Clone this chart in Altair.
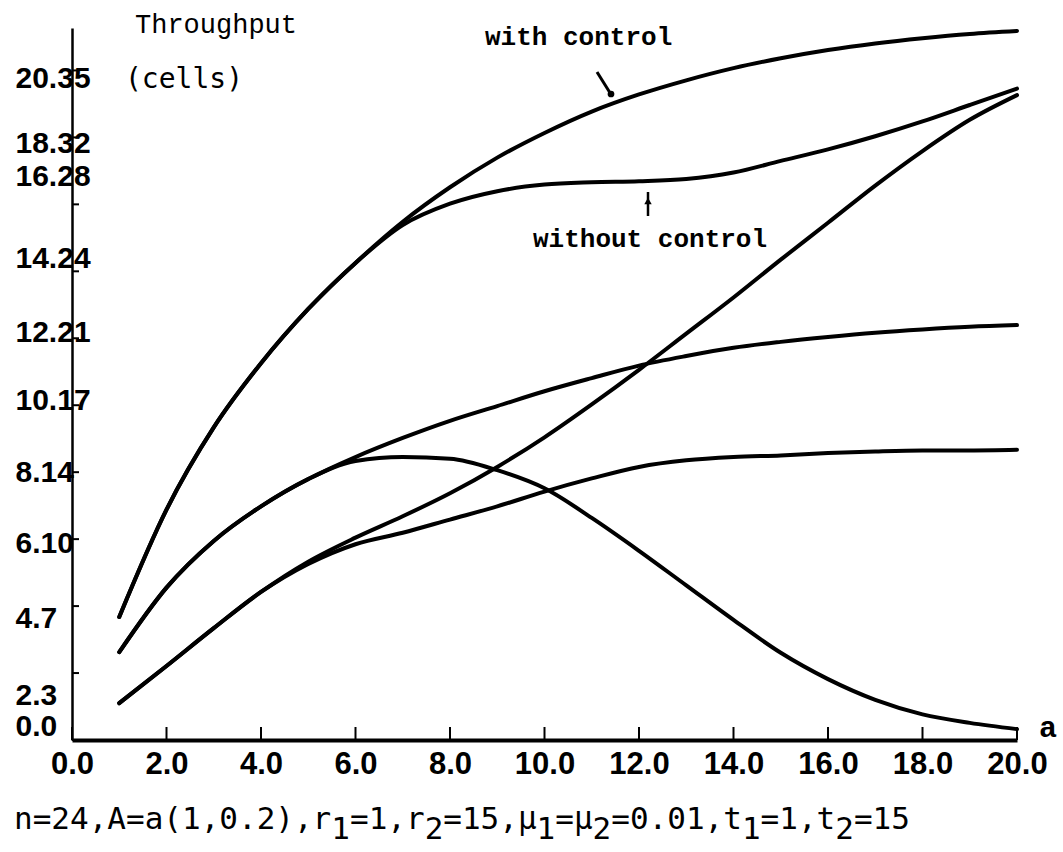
import altair as alt
import pandas as pd

# ---- data -------------------------------------------------------------
a_vals = list(range(1, 21))

with_ctrl_hi = [3.74, 7.0, 9.5, 11.45, 13.1, 14.5, 15.75, 16.8, 17.7, 18.45,
                19.1, 19.62, 20.05, 20.42, 20.72, 20.97, 21.17, 21.33, 21.46, 21.55]
without_ctrl_hi = [3.74, 7.0, 9.5, 11.45, 13.1, 14.5, 15.65, 16.3, 16.68, 16.88,
                   16.95, 16.98, 17.05, 17.25, 17.6, 17.95, 18.35, 18.8, 19.3, 19.8]
with_ctrl_mid = [2.67, 4.63, 6.05, 7.1, 7.93, 8.6, 9.18, 9.7, 10.15, 10.6,
                 11.0, 11.38, 11.67, 11.92, 12.1, 12.25, 12.38, 12.48, 12.56, 12.61]
without_ctrl_mid = [2.67, 4.63, 6.05, 7.1, 7.93, 8.48, 8.6, 8.55, 8.2, 7.65,
                    6.75, 5.75, 4.7, 3.65, 2.65, 1.85, 1.22, 0.78, 0.52, 0.33]
with_ctrl_lo = [1.12, 2.25, 3.4, 4.5, 5.42, 6.15, 6.8, 7.5, 8.3, 9.2,
                10.2, 11.25, 12.35, 13.45, 14.6, 15.72, 16.85, 17.9, 18.85, 19.6]
without_ctrl_lo = [1.12, 2.25, 3.4, 4.5, 5.35, 5.95, 6.3, 6.7, 7.1, 7.55,
                   7.95, 8.3, 8.5, 8.6, 8.65, 8.72, 8.77, 8.8, 8.8, 8.82]

x_ticks = [0, 2, 4, 6, 8, 10, 12, 14, 16, 18, 20]
y_ticks = [0, 2.035, 4.07, 6.105, 8.14, 10.175, 12.21, 14.245, 16.28, 18.315, 20.35]
y_tick_labels = ["0.0", "2.3", "4.7", "6.10", "8.14", "10.17", "12.21",
                 "14.24", "16.28", "18.32", "20.35"]
# vertical nudge of each printed y label relative to its tick (px)
y_label_nudge = [-14, 22, 12, 4, 0, -5, -6, -13, -28, 6, 8]

series = {
    "with control (1)": with_ctrl_hi,
    "without control (1)": without_ctrl_hi,
    "with control (2)": with_ctrl_mid,
    "without control (2)": without_ctrl_mid,
    "with control (3)": with_ctrl_lo,
    "without control (3)": without_ctrl_lo,
}

df = pd.DataFrame(
    [{"series": s, "a": a, "throughput": v}
     for s, vals in series.items() for a, v in zip(a_vals, vals)]
)

# ---- layout -------------------------------------------------------------
W, H = 945, 712
TICKFONT = "Liberation Sans, Arial, sans-serif"
TYPE = "Liberation Mono, Courier New, monospace"
SANSMONO = "DejaVu Sans Mono, monospace"

x_scale = alt.Scale(domain=[0, 20], nice=False, zero=False)
y_scale = alt.Scale(domain=[0, 21.64], nice=False, zero=False)

labels_js = "[" + ",".join(f"'{t}'" for t in y_tick_labels) + "]"
values_js = "[" + ",".join(str(v) for v in y_ticks) + "]"

y_offset_cond = [
    {"test": f"datum.value == {v}", "value": o}
    for v, o in zip(y_ticks, y_label_nudge) if o != 0
]

x_axis = alt.Axis(
    values=x_ticks, labelExpr="format(datum.value, '.1f')", title=None,
    grid=False, ticks=False, tickSize=0, domainColor="black", domainWidth=4,
    labelFont=TICKFONT, labelFontSize=31, labelFontWeight="bold", labelColor="black",
    labelPadding=9, labelOverlap=False, labelFlush=False, labelBaseline="top",
)
y_axis = alt.Axis(
    values=y_ticks, labelExpr=f"{labels_js}[indexof({values_js}, datum.value)]",
    title=None, grid=False, ticks=False, tickSize=0, domainColor="black",
    domainWidth=2.5, labelFont=TICKFONT, labelFontSize=30, labelFontWeight="bold",
    labelColor="black", labelAlign="left", labelBaseline="middle",
    labelPadding=57, labelOverlap=False, labelFlush=False,
    labelOffset={"condition": y_offset_cond, "value": 0},
)

lines = alt.Chart(df).mark_line(
    color="black", strokeWidth=4, interpolate="monotone",
    strokeCap="round", strokeJoin="round",
).encode(
    x=alt.X("a:Q", scale=x_scale, axis=x_axis),
    y=alt.Y("throughput:Q", scale=y_scale, axis=y_axis),
    detail="series:N",
)

# inward tick marks
x_tick_marks = alt.Chart(pd.DataFrame({"a": x_ticks})).mark_rule(
    color="black", strokeWidth=2
).encode(x=alt.X("a:Q", scale=x_scale), y=alt.value(H), y2=alt.value(H - 13))

y_tick_marks = alt.Chart(pd.DataFrame({"throughput": y_ticks})).mark_rule(
    color="black", strokeWidth=2
).encode(y=alt.Y("throughput:Q", scale=y_scale), x=alt.value(0), x2=alt.value(7))


def label(text, x, y, font, size, weight="normal", align="left", baseline="alphabetic"):
    return alt.Chart(pd.DataFrame({"t": [text]})).mark_text(
        font=font, fontSize=size, fontWeight=weight, color="black",
        align=align, baseline=baseline,
    ).encode(text="t:N", x=alt.value(x), y=alt.value(y))


texts = [
    label("Throughput", 63, 5, TYPE, 27),
    label("(cells)", 53, 60, SANSMONO, 28),
    label("with control", 413, 17, TYPE, 26, "bold"),
    label("without control", 461, 219, TYPE, 26, "bold"),
    label("a", 976, 700, TYPE, 30, "bold", "center", "middle"),
]

# pointers from the curve labels to their curves
pointer_with = alt.Chart(pd.DataFrame({"k": [0]})).mark_rule(
    color="black", strokeWidth=3
).encode(x=alt.value(525), y=alt.value(44), x2=alt.value(540), y2=alt.value(68))
pointer_with_head = alt.Chart(pd.DataFrame({"k": [0]})).mark_point(
    shape="circle", filled=True, color="black", size=45, opacity=1
).encode(x=alt.value(539), y=alt.value(66))
pointer_without = alt.Chart(pd.DataFrame({"k": [0]})).mark_rule(
    color="black", strokeWidth=2.5
).encode(x=alt.value(576), y=alt.value(164), y2=alt.value(188))
pointer_without_head = alt.Chart(pd.DataFrame({"k": [0]})).mark_point(
    shape="triangle-up", filled=True, color="black", size=55, opacity=1
).encode(x=alt.value(576), y=alt.value(173))

# parameter line with lowered subscript digits (monospaced runs)
caption_runs = [
    ("n=24,A=a(1,0.2),r", False), ("1", True), ("=1,r", False), ("2", True),
    ("=15,\u03bc", False), ("1", True), ("=\u03bc", False), ("2", True),
    ("=0.01,t", False), ("1", True), ("=1,t", False), ("2", True), ("=15", False),
]
CAP_SIZE = 31
char_w = 0.6021 * CAP_SIZE
cap_x0, cap_base, sub_drop = -58, 801, 10
caption = []
col = 0
for run, is_sub in caption_runs:
    caption.append(label(run, cap_x0 + col * char_w,
                         cap_base + (sub_drop if is_sub else 0), SANSMONO, CAP_SIZE))
    col += len(run)

chart = alt.layer(
    lines, x_tick_marks, y_tick_marks, *texts,
    pointer_with, pointer_with_head, pointer_without, pointer_without_head,
    *caption,
).properties(
    width=W, height=H,
    padding={"left": 72, "top": 28, "right": 46, "bottom": 112},
    autosize=alt.AutoSizeParams(type="none"),
    background="white",
).configure_view(stroke=None)

chart.save("out.html", embed_options={"renderer": "svg", "actions": False})
